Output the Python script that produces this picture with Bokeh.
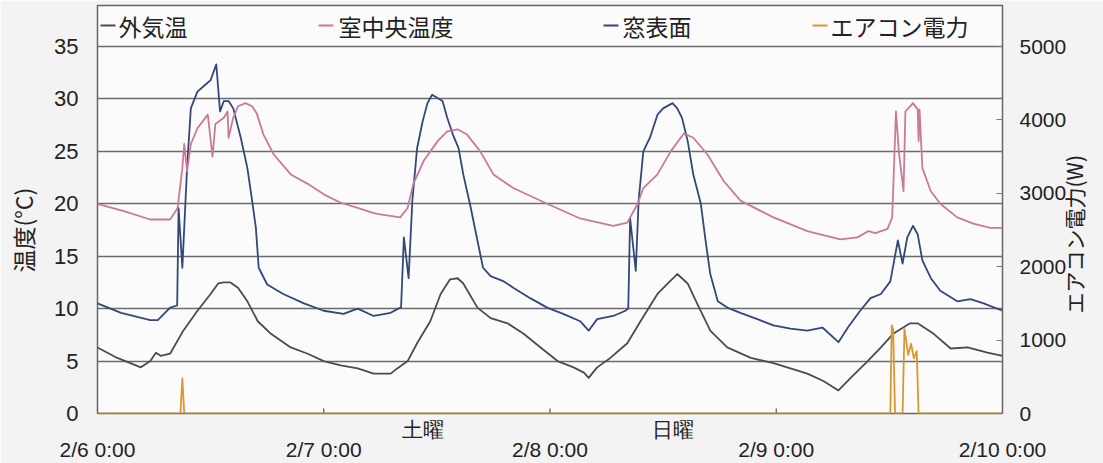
import math
from bokeh.plotting import figure
from bokeh.models import Range1d, LinearAxis, FixedTicker
from bokeh.core.properties import value
from bokeh.embed import file_html
from bokeh.resources import INLINE

# ---- data (x = hours after 2/6 0:00) ----
outdoor_h = [0.0, 2.1, 4.6, 5.6, 6.2, 6.7, 7.7, 9.1, 10.6, 12.0, 12.8, 13.4, 14.1, 14.9, 15.9, 17.0,
             18.4, 20.5, 22.3, 24.0, 25.8, 27.6, 29.3, 31.1, 31.8, 32.9, 33.9, 35.3, 36.4, 37.4, 38.2,
             38.8, 40.3, 41.7, 43.5, 45.2, 47.0, 48.8, 50.5, 51.6, 52.1, 53.0, 54.4, 56.2, 57.6, 59.4,
             60.5, 61.5, 62.6, 63.6, 65.0, 66.8, 69.3, 71.7, 73.5, 75.3, 77.0, 78.6, 79.9, 81.7, 83.1,
             84.4, 86.2, 87.0, 88.7, 90.5, 92.3, 94.4, 96.0]
outdoor_t = [6.3, 5.3, 4.4, 5.0, 5.8, 5.5, 5.7, 7.9, 9.8, 11.4, 12.4, 12.5, 12.5, 12.0, 10.7, 8.8,
             7.6, 6.3, 5.7, 5.0, 4.6, 4.3, 3.8, 3.8, 4.3, 5.0, 6.7, 8.8, 11.4, 12.8, 12.9,
             12.4, 10.1, 9.1, 8.6, 7.6, 6.3, 5.0, 4.4, 3.9, 3.4, 4.4, 5.3, 6.7, 8.8, 11.4,
             12.4, 13.3, 12.4, 10.5, 7.9, 6.3, 5.3, 4.8, 4.3, 3.8, 3.1, 2.2, 3.4, 5.0, 6.3,
             7.6, 8.6, 8.6, 7.6, 6.2, 6.3, 5.8, 5.5]

window_h = [0.0, 2.5, 5.6, 6.4, 7.7, 8.45, 8.6, 9.0, 9.5, 9.9, 10.6, 11.5, 12.0, 12.6, 13.0, 13.4,
            13.9, 14.4, 15.2, 15.9, 16.4, 16.8, 17.1, 18.0, 19.7, 21.9, 24.0, 26.1, 27.6, 29.3, 31.1,
            31.9, 32.2, 32.5, 33.0, 33.4, 33.9, 34.5, 35.0, 35.5, 36.6, 37.1, 37.7, 38.3, 38.8, 39.6,
            40.3, 40.9, 41.7, 43.1, 44.1, 45.9, 47.7, 49.4, 51.2, 52.1, 53.0, 54.7, 56.0, 56.3, 56.5,
            57.1, 57.4, 57.9, 58.6, 59.4, 60.0, 61.0, 61.5, 62.0, 62.6, 63.2, 64.0, 64.5, 65.0, 65.8,
            66.8, 68.2, 70.0, 71.7, 73.5, 75.3, 76.9, 78.6, 79.6, 80.9, 82.0, 83.1, 84.1, 84.9, 85.4,
            85.9, 86.5, 87.0, 87.5, 88.4, 89.4, 91.2, 92.6, 94.0, 96.0]
window_t = [10.5, 9.6, 8.9, 8.9, 10.1, 10.3, 19.6, 13.9, 23.4, 29.1, 30.7, 31.4, 31.8, 33.3, 28.8, 29.8,
            29.8, 29.1, 26.3, 23.4, 20.3, 17.7, 13.9, 12.3, 11.4, 10.5, 9.8, 9.5, 10.0, 9.3, 9.6,
            10.0, 10.1, 16.8, 12.9, 20.3, 25.3, 27.9, 29.6, 30.4, 29.8, 28.2, 26.6, 25.3, 22.8, 19.6,
            16.5, 13.9, 13.1, 12.6, 12.0, 11.0, 10.1, 9.5, 8.8, 7.9, 9.0, 9.3, 9.8, 10.0, 18.6,
            13.6, 20.3, 25.0, 26.3, 28.5, 29.1, 29.6, 29.1, 28.2, 26.0, 22.8, 20.0, 16.5, 13.3, 10.7,
            10.1, 9.6, 9.0, 8.4, 8.1, 7.9, 8.2, 6.8, 8.2, 9.8, 11.0, 11.4, 12.6, 16.5, 14.3,
            16.8, 17.9, 17.1, 14.6, 12.9, 11.7, 10.7, 10.9, 10.5, 9.8]

room_h = [0.0, 2.8, 5.6, 7.7, 8.5, 9.0, 9.2, 9.5, 9.9, 10.6, 11.7, 12.2, 12.5, 13.4, 13.8, 13.9,
          14.4, 14.9, 15.7, 16.4, 16.9, 17.6, 18.7, 20.5, 22.3, 24.0, 25.8, 27.6, 29.3, 30.0, 32.1,
          32.9, 33.5, 34.6, 36.1, 37.1, 38.2, 39.2, 40.6, 42.0, 44.1, 47.7, 51.2, 54.7, 56.2, 57.3,
          57.9, 59.4, 60.8, 62.2, 63.2, 64.7, 66.4, 68.2, 71.7, 75.3, 78.8, 80.6, 81.8, 82.5, 83.8,
          84.3, 84.7, 85.0, 85.5, 85.7, 86.5, 87.0, 87.1, 87.2, 87.5, 88.4, 89.4, 91.2, 92.9, 94.7,
          96.0]
room_t = [20.0, 19.3, 18.5, 18.5, 19.6, 23.4, 25.7, 23.1, 25.7, 27.2, 28.5, 24.5, 27.6, 28.2, 28.8, 26.3,
          28.2, 29.3, 29.6, 29.3, 28.6, 26.6, 24.7, 22.8, 21.9, 20.9, 20.1, 19.6, 19.1, 19.0, 18.7,
          19.6, 21.9, 24.1, 26.0, 26.9, 27.1, 26.6, 25.0, 22.8, 21.5, 20.0, 18.6, 17.9, 18.2, 20.0,
          21.5, 22.8, 25.0, 26.7, 26.3, 24.7, 22.2, 20.3, 18.7, 17.4, 16.6, 16.8, 17.4, 17.2, 17.6,
          18.7, 28.8, 25.0, 21.2, 28.8, 29.6, 29.0, 26.0, 29.0, 23.4, 21.2, 20.0, 18.7, 18.1, 17.7,
          17.7]

power_h = [0.0, 8.8, 9.0, 9.2, 84.1, 84.25, 84.4, 84.6, 85.4, 85.6, 86.0, 86.3, 86.6, 86.9, 87.1, 96.0]
power_w = [0, 0, 480, 0, 0, 1200, 1150, 0, 0, 1150, 800, 950, 750, 850, 0, 0]

x_ticks = [0, 24, 48, 72, 96]
x_tick_labels = ["2/6 0:00", "2/7 0:00", "2/8 0:00", "2/9 0:00", "2/10 0:00"]
temp_ticks = [0, 5, 10, 15, 20, 25, 30, 35]
power_ticks = [0, 1000, 2000, 3000, 4000, 5000]
legend_labels = ["外気温", "室中央温度", "窓表面", "エアコン電力"]
day_labels = ["土曜", "日曜"]
day_label_h = [34.5, 61.0]
y_title = "温度(°C)"
y2_title = "エアコン電力(W)"

# ---- styles / layout ----
C_OUT = "#474c57"
C_WIN = "#33477a"
C_ROOM = "#c97a98"
C_PWR = "#d9982e"
NUM_FONT = "Liberation Sans"
JP_FONT = "Noto Sans CJK JP"
BG = "#f3f3f3"
PLOT_BG = "#fbfbfb"
TXT = "#222222"

FRAME_W = 905            # px for 96 h
PLOT_H = 367             # px for 0..35 degC
STRIP_H = 41             # legend strip on top of the plot area, inside the frame
T_MAX = 35.0
P_MAX = 5000.0
y_top = T_MAX * (PLOT_H + STRIP_H) / PLOT_H
px_per_h = FRAME_W / 96.0
px_per_deg = PLOT_H / T_MAX

# legend item positions, in px from the frame's left edge, and px above the 35-degree line
legend_dash_px = [3, 221, 506, 715]
legend_text_px = [21, 241, 525, 733]
legend_mid_px = 21
legend_dash_colors = [C_OUT, C_ROOM, C_WIN, C_PWR]

# right title: its lower end sits this many px above the frame bottom
Y2_TITLE_START_PX = 100

p = figure(frame_width=FRAME_W, frame_height=PLOT_H + STRIP_H,
           x_range=Range1d(0, 96), y_range=Range1d(0, y_top),
           output_backend="svg", toolbar_location=None,
           min_border_left=97, min_border_right=101, min_border_top=5, min_border_bottom=50,
           background_fill_color=PLOT_BG, border_fill_color=BG,
           outline_line_color="#666666", outline_line_width=1.5)

p.extra_y_ranges = {"power": Range1d(0, P_MAX * y_top / T_MAX)}

shift = "\u00a0" * 8   # pushes the rotated title down to the middle of the 0..35 area

# left axis
ya = p.yaxis[0]
ya.ticker = FixedTicker(ticks=temp_ticks)
ya.major_label_text_font = NUM_FONT
ya.major_label_text_font_size = "22px"
ya.major_label_text_color = TXT
ya.major_tick_in = 0
ya.major_tick_out = 0
ya.minor_tick_line_color = None
ya.axis_line_color = None
ya.major_label_standoff = 19
ya.axis_label = y_title + shift
ya.axis_label_text_font = JP_FONT
ya.axis_label_text_font_size = "23px"
ya.axis_label_text_font_style = "normal"
ya.axis_label_text_color = TXT
ya.axis_label_standoff = 11

# bottom axis: dates on 2nd line, weekday names on 1st line
xa = p.xaxis[0]
lab_ticks = x_ticks + day_label_h
overrides = {t: "\u00a0\n" + l for t, l in zip(x_ticks, x_tick_labels)}
overrides.update({t: l for t, l in zip(day_label_h, day_labels)})
xa.ticker = FixedTicker(ticks=lab_ticks)
xa.major_label_overrides = overrides
xa.major_label_text_font = NUM_FONT
xa.major_label_text_font_size = "21px"
xa.major_label_text_color = TXT
xa.major_label_text_line_height = 0.9
xa.major_tick_in = 0
xa.major_tick_out = 0
xa.minor_tick_line_color = None
xa.axis_line_color = None
xa.major_label_standoff = 4

# right axis (power)
ra = LinearAxis(y_range_name="power", ticker=FixedTicker(ticks=power_ticks))
ra.major_label_text_font = NUM_FONT
ra.major_label_text_font_size = "21px"
ra.major_label_text_color = TXT
ra.major_tick_in = 6
ra.major_tick_out = 0
ra.major_tick_line_color = "#777777"
ra.minor_tick_line_color = None
ra.axis_line_color = None
ra.major_label_standoff = 17
p.add_layout(ra, "right")

# right title, written bottom-to-top (as a single rotated label of an outer axis)
t_pos = Y2_TITLE_START_PX / px_per_deg
ta = LinearAxis(ticker=FixedTicker(ticks=[t_pos]), major_label_overrides={t_pos: y2_title})
ta.major_label_orientation = math.pi / 2
ta.major_label_text_font = JP_FONT
ta.major_label_text_font_size = "21px"
ta.major_label_text_color = TXT
ta.major_tick_in = 0
ta.major_tick_out = 0
ta.minor_tick_line_color = None
ta.axis_line_color = None
ta.major_label_standoff = 4
p.add_layout(ta, "right")

# grid (35 line separates the legend strip from the plot area)
p.xgrid.visible = False
p.ygrid.ticker = FixedTicker(ticks=[5, 10, 15, 20, 25, 30, 35])
p.ygrid.grid_line_color = "#6b6b6b"
p.ygrid.grid_line_width = 1.5

# inner tick marks of the date axis (at interior day boundaries)
inner_days = x_ticks[1:-1]
p.segment(x0=inner_days, x1=inner_days, y0=[0] * len(inner_days),
          y1=[5 / px_per_deg] * len(inner_days), line_color="#555555", line_width=1.2)

# series
p.line(outdoor_h, outdoor_t, line_color=C_OUT, line_width=1.8, line_join="round")
p.line(window_h, window_t, line_color=C_WIN, line_width=1.8, line_join="round")
p.line(room_h, room_t, line_color=C_ROOM, line_width=1.8, line_join="round")
p.line(power_h, power_w, line_color=C_PWR, line_width=1.8, line_join="round", y_range_name="power")

# legend strip
ly = T_MAX + legend_mid_px / px_per_deg
p.segment(x0=[d / px_per_h for d in legend_dash_px], x1=[(d + 15) / px_per_h for d in legend_dash_px],
          y0=[ly] * 4, y1=[ly] * 4, line_color=legend_dash_colors, line_width=2)
p.text(x=[t / px_per_h for t in legend_text_px], y=[ly] * 4, text=legend_labels,
       text_font=value(JP_FONT), text_font_size="23px", text_color=TXT,
       text_baseline="middle", text_align="left")

open("out.html", "w").write(file_html(p, INLINE))
